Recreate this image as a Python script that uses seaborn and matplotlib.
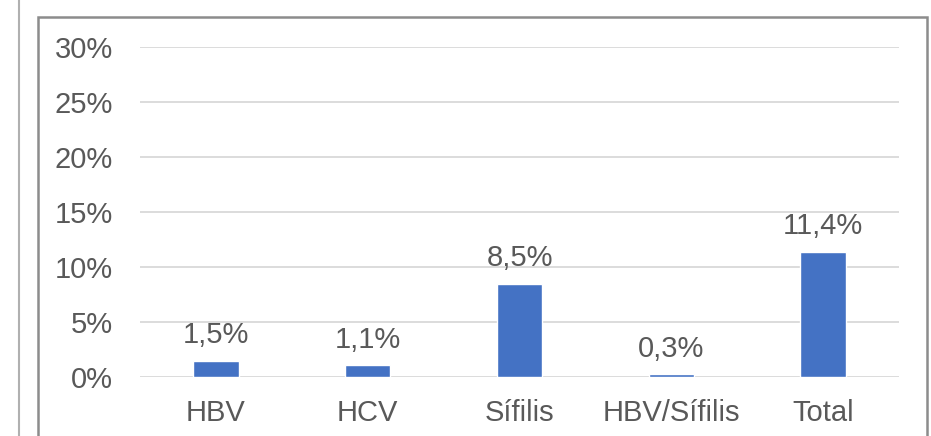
import matplotlib
matplotlib.use("Agg")
import matplotlib.pyplot as plt
import seaborn as sns
import pandas as pd
from matplotlib.patches import Rectangle
from matplotlib.lines import Line2D

categories = ["HBV", "HCV", "Sífilis", "HBV/Sífilis", "Total"]
values = [1.5, 1.1, 8.5, 0.3, 11.4]
labels = ["1,5%", "1,1%", "8,5%", "0,3%", "11,4%"]
y_ticks = [0, 5, 10, 15, 20, 25, 30]

df = pd.DataFrame({"cat": categories, "val": values})

sns.set_theme(style="white")
plt.rcParams["font.family"] = ["Liberation Sans", "DejaVu Sans"]

gray = "#595959"
fs = 21
fig = plt.figure(figsize=(9.31, 4.36), dpi=100)
ax = fig.add_axes([140 / 931, 1 - 377 / 436, 759 / 931, 330 / 436])

sns.barplot(data=df, x="cat", y="val", color="#4472C4", width=0.3, ax=ax,
            saturation=1)

ax.set_ylim(0, 30)
ax.set_xlim(-0.5, len(categories) - 0.5)
ax.set_yticks(y_ticks)
ax.set_yticklabels([f"{t}%" for t in y_ticks])
ax.set_xlabel("")
ax.set_ylabel("")
ax.yaxis.grid(True, color="#d9d9d9", linewidth=1.3)
ax.set_axisbelow(True)
for s in ax.spines.values():
    s.set_visible(False)
ax.tick_params(axis="y", length=0, pad=19.5, labelsize=fs, labelcolor=gray)
ax.tick_params(axis="x", length=0, pad=16, labelsize=fs, labelcolor=gray)

for i, (v, lab) in enumerate(zip(values, labels)):
    ax.annotate(lab, (i, v), xytext=(0, 8), textcoords="offset points",
                ha="center", va="bottom", fontsize=fs, color=gray)

# outer chart frame (cropped at bottom)
fig.add_artist(Rectangle((38 / 931, -0.05), 889 / 931, 1.05 - 17 / 436,
                         transform=fig.transFigure, fill=False,
                         edgecolor="#8c8c8c", linewidth=1.8))
fig.add_artist(Line2D([19 / 931, 19 / 931], [0, 1], transform=fig.transFigure,
                      color="#b0b0b0", linewidth=1.5))

fig.savefig("out.png", dpi=100)
